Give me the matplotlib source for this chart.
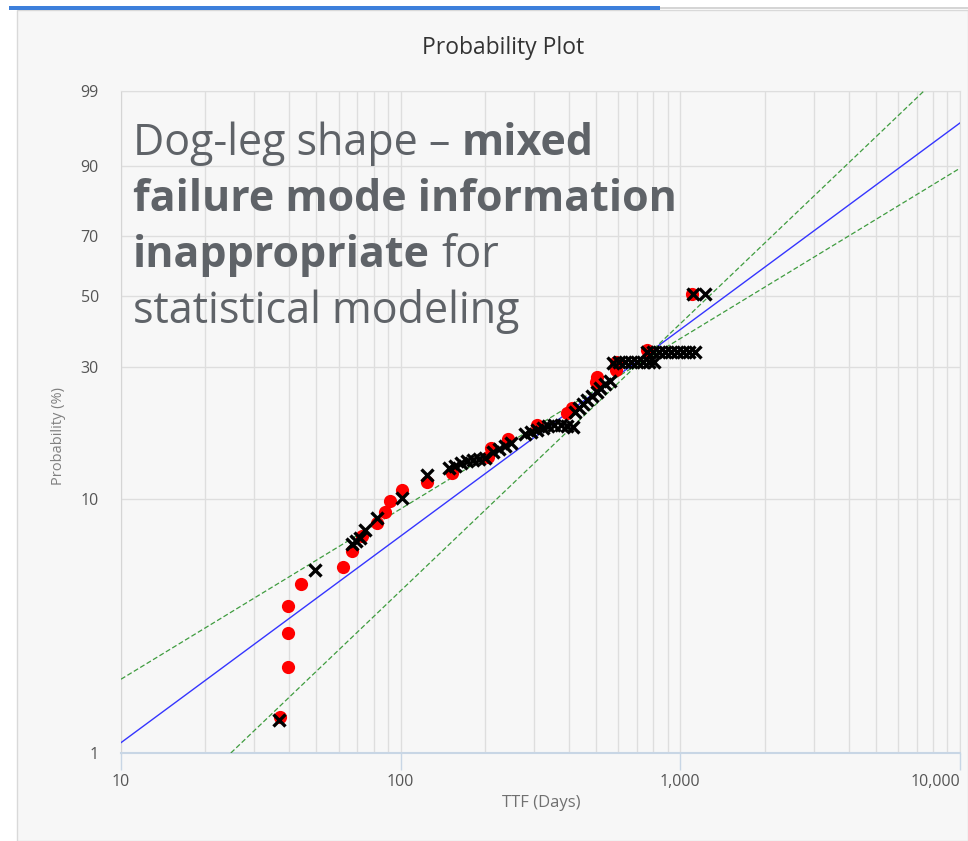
import numpy as np
import matplotlib
matplotlib.use("Agg")
import matplotlib.pyplot as plt
from matplotlib.patches import Rectangle
from matplotlib.ticker import FixedLocator, NullFormatter

# failure data (TTF in days, probability in %)
red_ttf = [37.0, 39.5, 39.5, 39.5, 43.9, 62.1, 66.8, 72.5, 82.1, 87.7, 91.3,
           100.8, 123.8, 153.0, 204.5, 209.6, 241.1, 306.0, 394.8, 411.5,
           501.2, 505.3, 590.7, 590.7, 762.4, 1104]
red_prob = [1.39, 2.20, 3.01, 3.84, 4.69, 5.47, 6.31, 7.22, 8.10, 8.93, 9.83,
            10.83, 11.61, 12.55, 14.40, 15.56, 16.79, 18.88, 20.86, 21.72,
            26.77, 27.84, 29.4, 31.26, 34.23, 50.5]

cross_ttf = [36.7, 49.3, 66.8, 69.1, 71.4, 74.4, 82.1, 100.8, 123.8,
             148.4, 155.9, 163.8, 172.1, 180.8, 189.9, 199.5,
             213.1, 223.9, 235.2, 247.1,
             277.3, 291.3, 306.0, 321.5, 337.7,
             354.8, 375.8, 394.8, 414.9,
             418.4, 435.9, 450.4, 465.5,
             485.0, 505.3, 517.9, 539.7, 562.3,
             576.4, 605.4, 636.2, 668.3, 702.2, 737.9, 775.0, 807.6,
             762.4, 801.0, 841.4, 884.0, 928.8, 975.7, 1025, 1077, 1131,
             1113, 1228]
cross_prob = [1.35, 5.32, 6.72, 6.90, 7.09, 7.62, 8.47, 10.1, 12.34,
              13.11, 13.33, 13.69, 13.92, 14.05, 14.16, 14.28,
              15.04, 15.42, 15.82, 16.23,
              17.51, 17.81, 18.10, 18.41, 18.72,
              18.88, 18.88, 18.72, 18.56,
              21.02, 21.72, 22.44, 23.18,
              23.94, 24.71, 25.53, 26.35, 26.97,
              31.01, 31.26, 31.26, 31.26, 31.26, 31.26, 31.26, 31.26,
              33.71, 33.71, 33.71, 33.71, 33.71, 33.71, 33.71, 33.71, 33.71,
              50.5, 50.5]

# fitted line and confidence bounds (end points)
fit_ttf = [10, 10000]
fit_prob = [1.10, 96.75]
upper_ttf = [10, 10000]
upper_prob = [1.97, 89.5]
lower_ttf = [24.7, 7430]
lower_prob = [1.0, 99.0]

y_ticks = [1, 10, 30, 50, 70, 90, 99]
x_ticks = [10, 100, 1000, 10000]
x_labels = ["10", "100", "1,000", "10,000"]


def weibull_fwd(p):
    p = np.clip(np.asarray(p, dtype=float), 1e-6, 100 - 1e-6)
    return np.log(-np.log(1 - p / 100.0))


def weibull_inv(w):
    return 100.0 * (1 - np.exp(-np.exp(w)))


W, H = 968, 841
fig = plt.figure(figsize=(W / 100, H / 100), dpi=100)
fig.patch.set_facecolor("white")

# card background, border and blue tab bar
fig.add_artist(Rectangle((17 / W, 0), 1 - 17 / W, 1 - 10 / H, transform=fig.transFigure,
                         facecolor="#f7f7f7", edgecolor="#d9d9d9", linewidth=1, zorder=0))
fig.add_artist(Rectangle((9 / W, 1 - 10 / H), (660 - 9) / W, 4 / H, transform=fig.transFigure,
                         facecolor="#3d7fdb", edgecolor="none", zorder=1))
fig.add_artist(Rectangle((660 / W, 1 - 9 / H), (W - 660) / W, 2 / H, transform=fig.transFigure,
                         facecolor="#d5d5d5", edgecolor="none", zorder=1))

ax = fig.add_axes([121 / W, 1 - 753 / H, (960 - 121) / W, (753 - 91) / H])
ax.set_facecolor("#f7f7f7")
ax.set_xscale("log")
ax.set_yscale("function", functions=(weibull_fwd, weibull_inv))
ax.set_xlim(10, 10000)
ax.set_ylim(1, 99)

ax.plot(fit_ttf, fit_prob, color="#3535ff", linewidth=1.0, zorder=3)
ax.plot(upper_ttf, upper_prob, color="#3f9c3f", linewidth=0.9, linestyle=(0, (4, 2)), zorder=3)
ax.plot(lower_ttf, lower_prob, color="#3f9c3f", linewidth=0.9, linestyle=(0, (4, 2)), zorder=3)

ax.plot(red_ttf, red_prob, linestyle="none", marker="o", markersize=9.5,
        color="#ff0000", markeredgewidth=0, zorder=4)
ax.plot(cross_ttf, cross_prob, linestyle="none", marker="x", markersize=8.5,
        markeredgewidth=2.4, color="black", zorder=5)

ax.set_yticks(y_ticks)
ax.set_yticklabels([str(t) for t in y_ticks])
ax.yaxis.set_minor_locator(FixedLocator([]))
ax.set_xticks(x_ticks)
ax.set_xticklabels(x_labels)
minor = [m * d for d in [10, 100, 1000] for m in range(2, 10)]
ax.xaxis.set_minor_locator(FixedLocator(minor))
ax.xaxis.set_minor_formatter(NullFormatter())
ax.xaxis.get_majorticklabels()[-1].set_horizontalalignment("right")

ax.grid(True, which="both", color="#dedede", linewidth=1.0)
ax.set_axisbelow(True)
ax.tick_params(axis="x", which="major", length=12, width=1, color="#c8d6e5",
               pad=3, labelsize=11.5, labelcolor="#555555")
ax.tick_params(axis="x", which="minor", length=0)
ax.tick_params(axis="y", which="both", length=0, pad=16, labelsize=11.5, labelcolor="#555555")
for lab in ax.get_xticklabels() + ax.get_yticklabels():
    lab.set_fontfamily("Open Sans")

for side in ["top", "right"]:
    ax.spines[side].set_color("#dedede")
ax.spines["left"].set_color("#d5d5d5")
ax.spines["bottom"].set_color("#c8d6e5")
ax.spines["bottom"].set_linewidth(1.5)

fig.text(503 / W, 1 - 48 / H, "Probability Plot", ha="center", va="center",
         fontsize=16.5, color="#333333", family="Open Sans")
fig.text(541 / W, 1 - 803 / H, "TTF (Days)", ha="center", va="center",
         fontsize=12, color="#707070", family="Open Sans")
fig.text(58 / W, 1 - 436 / H, "Probability (%)", ha="center", va="center",
         rotation=90, fontsize=10.5, color="#808080", family="Open Sans")

# overlay annotation with mixed weights
txt_color = "#5f6368"
fs = 31
sp = fs * 0.26
x0 = 133 / W
t1 = fig.text(x0, 1 - 155 / H, "Dog-leg shape \u2013", fontsize=fs, color=txt_color,
              family="Open Sans", va="baseline")
ax.annotate("mixed", xy=(1, 1 - 155 / H), xycoords=(t1, "figure fraction"),
            xytext=(sp, 0), textcoords="offset points", va="baseline",
            fontsize=fs, fontweight="bold", color=txt_color, family="Open Sans",
            annotation_clip=False)
fig.text(x0, 1 - 211 / H, "failure mode information", fontsize=fs, fontweight="bold",
         color=txt_color, family="Open Sans", va="baseline")
t3 = fig.text(x0, 1 - 267 / H, "inappropriate", fontsize=fs, fontweight="bold",
              color=txt_color, family="Open Sans", va="baseline")
ax.annotate("for", xy=(1, 1 - 267 / H), xycoords=(t3, "figure fraction"),
            xytext=(sp, 0), textcoords="offset points", va="baseline",
            fontsize=fs, color=txt_color, family="Open Sans", annotation_clip=False)
fig.text(x0, 1 - 323 / H, "statistical modeling", fontsize=fs, color=txt_color,
         family="Open Sans", va="baseline")

fig.savefig("out.png", dpi=100)
